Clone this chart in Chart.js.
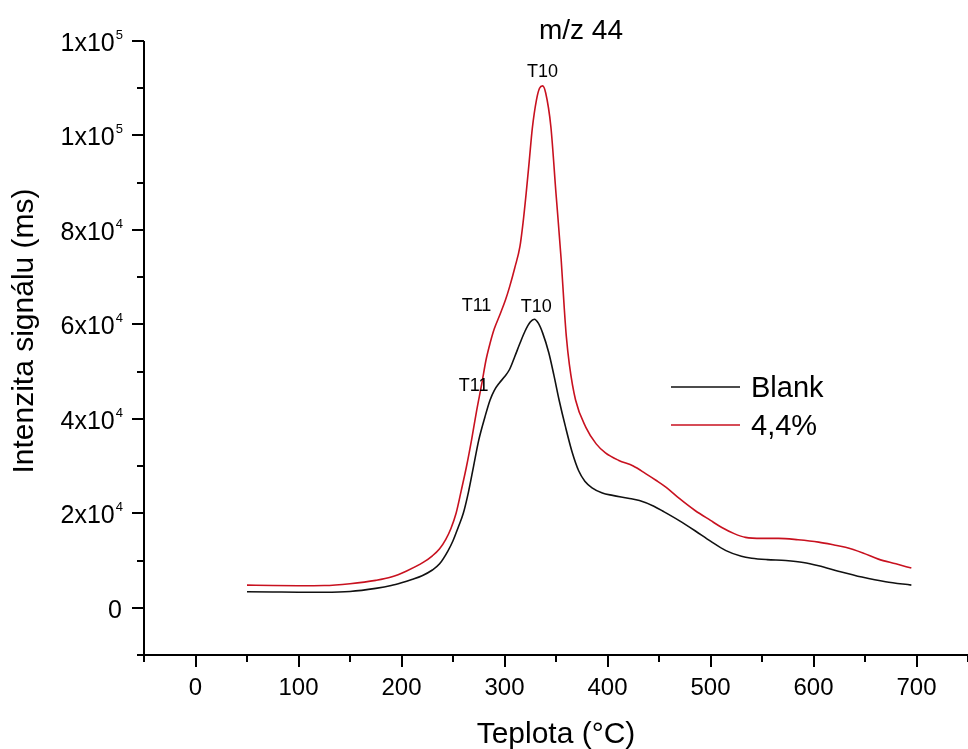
<!DOCTYPE html>
<html lang="cs">
<head>
<meta charset="UTF-8">
<title>m/z 44</title>
<script src="https://cdn.jsdelivr.net/npm/chart.js"></script>
<style>
  html, body { margin: 0; padding: 0; background: #fff; }
  #wrap { width: 968px; height: 749px; position: relative; }
</style>
</head>
<body>
<div id="wrap"><canvas id="ms44"></canvas></div>
<script>
// teploty (°C) a intenzity signálu pro oba vzorky
var tempBlank = [50, 75, 100, 125, 150, 175, 190, 200, 210, 220, 230, 237, 245, 250, 255, 260, 265, 270, 275, 281,
  286, 290, 295, 300, 305, 310, 315, 320, 325, 329, 333, 337, 343, 348, 353, 359, 366, 372, 378, 385,
  395, 405, 420, 431, 445, 455, 470, 485, 500, 515, 530, 540, 555, 573, 590, 605, 625, 647, 670, 695];
var blank = [3400, 3350, 3300, 3300, 3450, 4100, 4700, 5300, 6000, 6800, 8000, 9300, 12000, 14200, 17000, 20000, 24500, 30000, 35500, 40400,
  44000, 46000, 47600, 48900, 50500, 53200, 56000, 58600, 60500, 61100, 60200, 58200, 54000, 49200, 44000, 38500, 32700, 29000, 26800, 25400,
  24300, 23800, 23200, 22700, 21500, 20300, 18400, 16300, 14100, 12100, 10900, 10500, 10200, 10000, 9600, 8900, 7700, 6500, 5500, 4800];

var tempSample = [50, 75, 100, 125, 150, 175, 190, 205, 221, 230, 237, 243, 248, 253, 258, 263, 268, 273, 278, 282,
  286, 290, 296, 301, 305, 310, 315, 318, 321, 324, 327, 331, 334, 337, 340, 345, 350, 355, 358, 360,
  363, 369, 379, 389, 398, 411, 425, 437, 447, 457, 470, 485, 500, 511, 523, 534, 550, 566, 585, 605,
  620, 631, 648, 663, 680, 695];
var sample = [4800, 4700, 4650, 4700, 5100, 5800, 6500, 7800, 9600, 11000, 12500, 14500, 16800, 20000, 24800, 29800, 35500, 41800, 47500, 52400,
  56000, 59000, 62300, 65200, 68000, 72000, 76500, 81500, 87700, 94500, 101500, 107500, 110000, 110500, 109000, 101900, 87700, 73800, 63500, 57500,
  51500, 44000, 38200, 34700, 32800, 31200, 30000, 28400, 27000, 25500, 23100, 20600, 18500, 17000, 15700, 14900, 14700, 14700, 14400, 13900,
  13300, 12800, 11600, 10300, 9300, 8400];

var seriesNames = ['Blank', '4,4%'];
var seriesColors = ['#111111', '#c8111f'];

var xTicks = [0, 100, 200, 300, 400, 500, 600, 700];
var yTicks = [0, 20000, 40000, 60000, 80000, 100000, 120000];
// popisky osy y: základ a exponent
var yTickBase = ['0', '2x10', '4x10', '6x10', '8x10', '1x10', '1x10'];
var yTickExp = ['', '4', '4', '4', '4', '5', '5'];

// značky píků: text, řada (0 = Blank, 1 = 4,4 %), teplota
var peakLabels = [
  { text: 'T10', series: 1, temp: 337, dx: 0, dy: -9, align: 'center' },
  { text: 'T10', series: 0, temp: 329, dx: 2, dy: -7, align: 'center' },
  { text: 'T11', series: 1, temp: 296, dx: -9, dy: -3, align: 'right' },
  { text: 'T11', series: 0, temp: 298, dx: -14, dy: 12, align: 'right' }
];

var FONT = 'Arial, "Liberation Sans", sans-serif';

function points(t, v) {
  return t.map(function (x, i) { return { x: x, y: v[i] }; });
}

var temps = [tempBlank, tempSample];
var values = [blank, sample];

function valueAt(s, temp) {
  var t = temps[s], v = values[s];
  for (var i = 0; i < t.length - 1; i++) {
    if (temp >= t[i] && temp <= t[i + 1]) {
      var f = (temp - t[i]) / (t[i + 1] - t[i]);
      return v[i] + f * (v[i + 1] - v[i]);
    }
  }
  return v[v.length - 1];
}

// osy, popisky, legenda a titulek kreslené ručně
var originAxes = {
  id: 'originAxes',
  afterDraw: function (chart) {
    var ctx = chart.ctx;
    var xs = chart.scales.x, ys = chart.scales.y;
    var area = chart.chartArea;
    ctx.save();
    ctx.strokeStyle = '#000';
    ctx.fillStyle = '#000';
    ctx.lineWidth = 2;

    // osa y
    ctx.beginPath();
    ctx.moveTo(area.left, area.top);
    ctx.lineTo(area.left, area.bottom + 1);
    ctx.stroke();
    // osa x
    ctx.beginPath();
    ctx.moveTo(area.left - 1, area.bottom);
    ctx.lineTo(area.right, area.bottom);
    ctx.stroke();

    // značky na ose x
    for (var v = xs.min; v <= xs.max; v += 50) {
      var px = Math.round(xs.getPixelForValue(v));
      var major = xTicks.indexOf(v) >= 0;
      ctx.beginPath();
      ctx.moveTo(px, area.bottom);
      ctx.lineTo(px, area.bottom + (major ? 12 : 7));
      ctx.stroke();
    }
    // značky na ose y
    for (var w = ys.min; w <= ys.max; w += 10000) {
      var py = Math.round(ys.getPixelForValue(w));
      var big = yTicks.indexOf(w) >= 0;
      ctx.beginPath();
      ctx.moveTo(area.left, py);
      ctx.lineTo(area.left - (big ? 12 : 7), py);
      ctx.stroke();
    }

    // popisky osy x
    ctx.font = '24px ' + FONT;
    ctx.textAlign = 'center';
    ctx.textBaseline = 'middle';
    xTicks.forEach(function (t) {
      ctx.fillText(String(t), xs.getPixelForValue(t), area.bottom + 33);
    });

    // popisky osy y s exponentem
    var rightEdge = area.left - 21;
    yTicks.forEach(function (t, i) {
      var py = ys.getPixelForValue(t) + 3;
      ctx.font = '13px ' + FONT;
      var expW = yTickExp[i] ? ctx.measureText(yTickExp[i]).width : 0;
      ctx.textAlign = 'right';
      ctx.textBaseline = 'alphabetic';
      if (yTickExp[i]) ctx.fillText(yTickExp[i], rightEdge, py - 5);
      ctx.font = '25px ' + FONT;
      ctx.textBaseline = 'middle';
      ctx.fillText(yTickBase[i], rightEdge - expW - 1, py);
    });

    // názvy os
    ctx.font = '30px ' + FONT;
    ctx.textAlign = 'center';
    ctx.textBaseline = 'alphabetic';
    ctx.fillText('Teplota (°C)', (area.left + area.right) / 2, 743);
    ctx.save();
    ctx.translate(25, 331);
    ctx.rotate(-Math.PI / 2);
    ctx.textBaseline = 'middle';
    ctx.fillText('Intenzita signálu (ms)', 0, 0);
    ctx.restore();

    // titulek
    ctx.font = '28px ' + FONT;
    ctx.textAlign = 'center';
    ctx.textBaseline = 'alphabetic';
    ctx.fillText('m/z 44', 581, 39);

    // legenda
    ctx.font = '29px ' + FONT;
    ctx.textAlign = 'left';
    seriesNames.forEach(function (name, i) {
      var ly = 387 + i * 38;
      ctx.strokeStyle = seriesColors[i];
      ctx.lineWidth = 1.5;
      ctx.beginPath();
      ctx.moveTo(671, ly);
      ctx.lineTo(740, ly);
      ctx.stroke();
      ctx.fillStyle = '#000';
      ctx.fillText(name, 751, ly + 10);
    });

    // značky píků
    ctx.font = '18px ' + FONT;
    ctx.fillStyle = '#000';
    ctx.textBaseline = 'alphabetic';
    peakLabels.forEach(function (p) {
      var ax = xs.getPixelForValue(p.temp);
      var ay = ys.getPixelForValue(valueAt(p.series, p.temp));
      ctx.textAlign = p.align;
      ctx.fillText(p.text, ax + p.dx, ay + p.dy);
    });

    ctx.restore();
  }
};

new Chart(document.getElementById('ms44'), {
  type: 'line',
  data: {
    datasets: [0, 1].map(function (i) {
      return {
        label: seriesNames[i],
        data: points(temps[i], values[i]),
        borderColor: seriesColors[i],
        borderWidth: 1.6,
        pointRadius: 0,
        fill: false,
        cubicInterpolationMode: 'monotone'
      };
    })
  },
  options: {
    responsive: true,
    maintainAspectRatio: false,
    animation: false,
    layout: { padding: { left: 144, top: 41, right: 0, bottom: 94 } },
    plugins: { legend: { display: false }, tooltip: { enabled: false } },
    scales: {
      x: { type: 'linear', min: -50, max: 750, display: false },
      y: { type: 'linear', min: -10000, max: 120000, display: false }
    }
  },
  plugins: [originAxes]
});
</script>
</body>
</html>
